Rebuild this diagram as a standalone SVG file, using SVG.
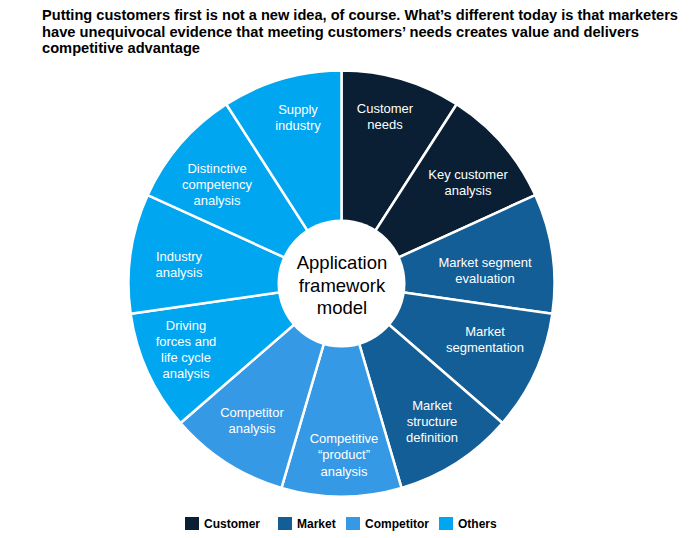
<svg xmlns="http://www.w3.org/2000/svg" width="693" height="538" viewBox="0 0 693 538">
<style>
.title{font-family:"Liberation Sans",Arial,sans-serif;font-weight:bold;font-size:14px;fill:#000}
.seg{stroke:#fff;stroke-width:2.5;stroke-linejoin:round}
.cust{fill:#0A1F33}
.mkt{fill:#135E96}
.comp{fill:#3599E6}
.oth{fill:#00A6F0}
.lbl{font-family:"Liberation Sans",Arial,sans-serif;font-size:13px;fill:#fff;text-anchor:middle}
.ctr{font-family:"Liberation Sans",Arial,sans-serif;font-size:18.5px;fill:#000;text-anchor:middle}
.leg{font-family:"Liberation Sans",Arial,sans-serif;font-weight:bold;font-size:12px;fill:#000}
</style>
<rect width="693" height="538" fill="#fff"/>
<g id="title">
<text class="title" x="42" y="20" textLength="636" lengthAdjust="spacingAndGlyphs">Putting customers first is not a new idea, of course. What’s different today is that marketers</text>
<text class="title" x="42" y="37" textLength="597" lengthAdjust="spacingAndGlyphs">have unequivocal evidence that meeting customers’ needs creates value and delivers</text>
<text class="title" x="42" y="53" textLength="158" lengthAdjust="spacingAndGlyphs">competitive advantage</text>
</g>
<g id="customer-needs">
<path class="seg cust" d="M341.5 283.5 L341.5 70.5 A213 213 0 0 1 456.65 104.3 Z"/>
<text class="lbl" x="385" y="113">Customer</text><text class="lbl" x="385" y="129">needs</text>
</g>
<g id="key-customer-analysis">
<path class="seg cust" d="M341.5 283.5 L456.65 104.3 A213 213 0 0 1 535.24 195.02 Z"/>
<text class="lbl" x="468" y="179">Key customer</text><text class="lbl" x="468" y="195">analysis</text>
</g>
<g id="market-segment-evaluation">
<path class="seg mkt" d="M341.5 283.5 L535.24 195.02 A213 213 0 0 1 552.33 313.81 Z"/>
<text class="lbl" x="485" y="267">Market segment</text><text class="lbl" x="485" y="283">evaluation</text>
</g>
<g id="market-segmentation">
<path class="seg mkt" d="M341.5 283.5 L552.33 313.81 A213 213 0 0 1 502.46 422.99 Z"/>
<text class="lbl" x="485" y="336">Market</text><text class="lbl" x="485" y="351.5">segmentation</text>
</g>
<g id="market-structure-definition">
<path class="seg mkt" d="M341.5 283.5 L502.46 422.99 A213 213 0 0 1 401.5 487.87 Z"/>
<text class="lbl" x="432" y="410">Market</text><text class="lbl" x="432" y="426">structure</text><text class="lbl" x="432" y="442">definition</text>
</g>
<g id="competitive-product-analysis">
<path class="seg comp" d="M341.5 283.5 L401.5 487.87 A213 213 0 0 1 281.5 487.87 Z"/>
<text class="lbl" x="344" y="443">Competitive</text><text class="lbl" x="344" y="459">“product”</text><text class="lbl" x="344" y="475.5">analysis</text>
</g>
<g id="competitor-analysis">
<path class="seg comp" d="M341.5 283.5 L281.5 487.87 A213 213 0 0 1 180.54 422.99 Z"/>
<text class="lbl" x="252" y="417">Competitor</text><text class="lbl" x="252" y="433">analysis</text>
</g>
<g id="driving-forces">
<path class="seg oth" d="M341.5 283.5 L180.54 422.99 A213 213 0 0 1 130.67 313.81 Z"/>
<text class="lbl" x="186" y="330">Driving</text><text class="lbl" x="186" y="346">forces and</text><text class="lbl" x="186" y="362">life cycle</text><text class="lbl" x="186" y="377.5">analysis</text>
</g>
<g id="industry-analysis">
<path class="seg oth" d="M341.5 283.5 L130.67 313.81 A213 213 0 0 1 147.76 195.02 Z"/>
<text class="lbl" x="179" y="261">Industry</text><text class="lbl" x="179" y="277">analysis</text>
</g>
<g id="distinctive-competency-analysis">
<path class="seg oth" d="M341.5 283.5 L147.76 195.02 A213 213 0 0 1 226.35 104.3 Z"/>
<text class="lbl" x="217" y="173">Distinctive</text><text class="lbl" x="217" y="189">competency</text><text class="lbl" x="217" y="204.5">analysis</text>
</g>
<g id="supply-industry">
<path class="seg oth" d="M341.5 283.5 L226.35 104.3 A213 213 0 0 1 341.5 70.5 Z"/>
<text class="lbl" x="298" y="114">Supply</text><text class="lbl" x="298" y="129.5">industry</text>
</g>
<g id="center">
<circle cx="341.5" cy="283.5" r="64" fill="#fff"/>
<text class="ctr" x="342" y="269">Application</text>
<text class="ctr" x="342" y="291.5">framework</text>
<text class="ctr" x="342" y="314">model</text>
</g>
<g id="legend">
<rect class="cust" x="185" y="517" width="14" height="13"/><text class="leg" x="204" y="528">Customer</text>
<rect class="mkt" x="278" y="517" width="14" height="13"/><text class="leg" x="297" y="528">Market</text>
<rect class="comp" x="346" y="517" width="14" height="13"/><text class="leg" x="365" y="528">Competitor</text>
<rect class="oth" x="439" y="517" width="14" height="13"/><text class="leg" x="458" y="528">Others</text>
</g>
</svg>
